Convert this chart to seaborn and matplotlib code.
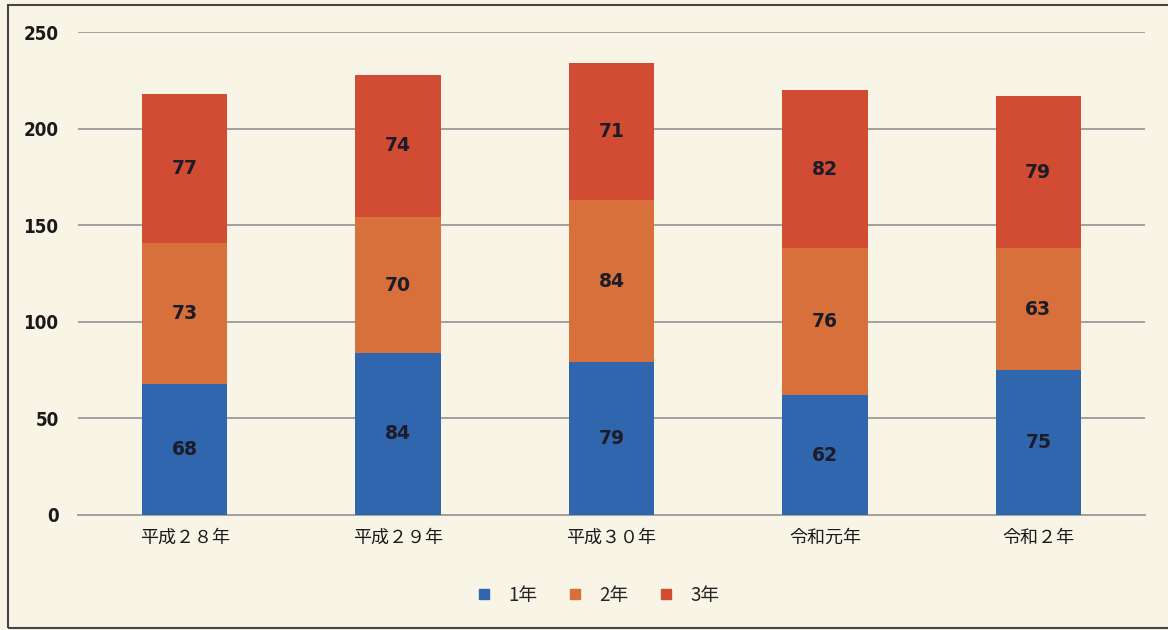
import matplotlib
matplotlib.use("Agg")
import matplotlib.pyplot as plt
from matplotlib.patches import Rectangle
from matplotlib.lines import Line2D
import numpy as np
import pandas as pd
import seaborn as sns

# Students per grade and year
categories = ["平成２８年", "平成２９年", "平成３０年", "令和元年", "令和２年"]
grade1 = [68, 84, 79, 62, 75]
grade2 = [73, 70, 84, 76, 63]
grade3 = [77, 74, 71, 82, 79]
series_names = ["1年", "2年", "3年"]
yticks = [0, 50, 100, 150, 200, 250]

colors = ["#2f66ad", "#d8703b", "#d14c33"]
bg = "#f8f5e7"

sns.set_theme(style="white")
plt.rcParams["font.family"] = ["Noto Sans CJK JP", "DejaVu Sans"]

fig = plt.figure(figsize=(11.68, 6.30), dpi=100, facecolor=bg)
ax = fig.add_axes([78 / 1168, 115 / 630, (1145 - 78) / 1168, (515 - 32) / 630])
ax.set_facecolor(bg)

g1 = np.array(grade1)
g2 = np.array(grade2)
g3 = np.array(grade3)
cum = [g1, g1 + g2, g1 + g2 + g3]

df = pd.DataFrame({"year": categories, "c1": cum[0], "c2": cum[1], "c3": cum[2]})

# stacked by overdrawing cumulative totals, tallest first
for col, color in zip(["c3", "c2", "c1"], colors[::-1]):
    sns.barplot(data=df, x="year", y=col, color=color, width=0.4,
                saturation=1, linewidth=0, ax=ax, zorder=3)

# segment labels
for i in range(len(categories)):
    lows = [0, cum[0][i], cum[1][i]]
    vals = [g1[i], g2[i], g3[i]]
    for lo, v in zip(lows, vals):
        ax.text(i, lo + v / 2, str(v), ha="center", va="center",
                fontsize=13.5, fontweight="bold", color="#1c1c28",
                family="DejaVu Sans", zorder=5)

ax.set_ylim(0, 250)
ax.set_xlim(-0.5, len(categories) - 0.5)
ax.set_yticks(yticks)
ax.set_yticklabels([str(t) for t in yticks], fontsize=13.5, color="#1a1a1a",
                   family="DejaVu Sans", fontweight="bold", fontstretch="condensed")
ax.yaxis.grid(True, color="#a0a0a0", linewidth=1.4, zorder=0)
ax.set_axisbelow(True)
ax.tick_params(axis="y", pad=14, length=0)
ax.tick_params(axis="x", pad=10, length=0, labelsize=13, labelcolor="#1a1a1a")
ax.set_xlabel("")
ax.set_ylabel("")
for s in ["top", "right", "left"]:
    ax.spines[s].set_visible(False)
ax.spines["bottom"].set_color("#a0a0a0")
ax.spines["bottom"].set_linewidth(1.4)

handles = [Line2D([0], [0], marker="s", linestyle="none", markersize=7,
                  markerfacecolor=c, markeredgecolor=c) for c in colors]
fig.legend(handles, series_names, loc="center", bbox_to_anchor=(592 / 1168, 1 - 595 / 630),
           ncol=3, frameon=False, fontsize=13.5, handletextpad=0.3, columnspacing=1.0)

# outer frame
fig.patches.append(Rectangle((8 / 1168, 2 / 630), 1.2, 623 / 630,
                             transform=fig.transFigure, fill=False,
                             edgecolor="#444444", linewidth=1.5))

fig.savefig("out.png", dpi=100, facecolor=bg)
